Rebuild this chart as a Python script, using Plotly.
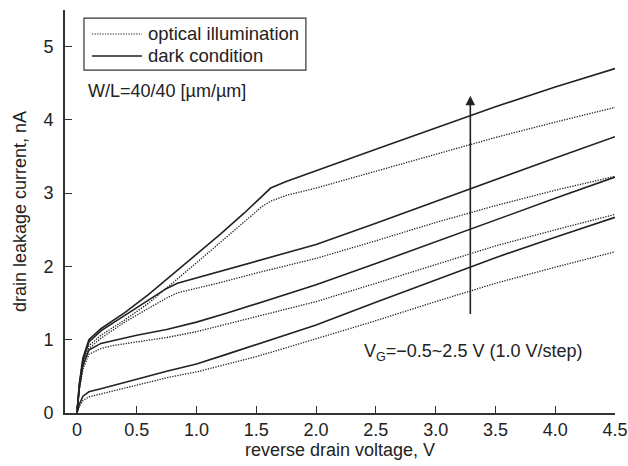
import plotly.graph_objects as go

# ---- data ----
v_top = [0, 0.02, 0.05, 0.1, 0.2, 0.4, 0.6, 0.8, 1.0, 1.2, 1.4, 1.55, 1.62, 1.75, 2.0, 2.5, 3.0, 3.5, 4.0, 4.5]
dark_vg25 = [0, 0.40, 0.75, 1.0, 1.15, 1.37, 1.62, 1.89, 2.16, 2.44, 2.73, 2.96, 3.07, 3.16, 3.31, 3.60, 3.89, 4.18, 4.45, 4.70]
light_vg25 = [0, 0.35, 0.68, 0.92, 1.06, 1.27, 1.50, 1.77, 2.05, 2.33, 2.61, 2.82, 2.89, 2.97, 3.07, 3.30, 3.54, 3.76, 3.97, 4.17]

v_mid = [0, 0.02, 0.05, 0.1, 0.2, 0.4, 0.6, 0.75, 0.84, 0.95, 1.2, 1.5, 2.0, 2.5, 3.0, 3.5, 4.0, 4.5]
dark_vg15 = [0, 0.38, 0.72, 0.97, 1.12, 1.33, 1.54, 1.70, 1.77, 1.82, 1.94, 2.07, 2.30, 2.59, 2.89, 3.19, 3.48, 3.77]
light_vg15 = [0, 0.33, 0.65, 0.88, 1.02, 1.24, 1.43, 1.57, 1.64, 1.68, 1.78, 1.91, 2.11, 2.35, 2.60, 2.83, 3.04, 3.23]

v_low = [0, 0.02, 0.05, 0.1, 0.2, 0.3, 0.5, 0.75, 1.0, 1.25, 1.5, 1.75, 2.0, 2.5, 3.0, 3.5, 4.0, 4.5]
dark_vg05 = [0, 0.35, 0.65, 0.86, 0.95, 0.99, 1.06, 1.14, 1.24, 1.36, 1.49, 1.62, 1.75, 2.04, 2.34, 2.64, 2.93, 3.22]
light_vg05 = [0, 0.32, 0.60, 0.80, 0.88, 0.92, 0.97, 1.03, 1.11, 1.21, 1.31, 1.41, 1.52, 1.77, 2.03, 2.28, 2.50, 2.71]
dark_vgm05 = [0, 0.12, 0.23, 0.29, 0.33, 0.37, 0.46, 0.57, 0.67, 0.80, 0.93, 1.07, 1.20, 1.51, 1.82, 2.12, 2.40, 2.67]
light_vgm05 = [0, 0.09, 0.17, 0.22, 0.26, 0.30, 0.39, 0.48, 0.56, 0.66, 0.77, 0.89, 1.01, 1.26, 1.52, 1.77, 1.99, 2.20]

x_ticks = [0, 0.5, 1.0, 1.5, 2.0, 2.5, 3.0, 3.5, 4.0, 4.5]
x_ticktext = ["0", "0.5", "1.0", "1.5", "2.0", "2.5", "3.0", "3.5", "4.0", "4.5"]
y_ticks = [0, 1, 2, 3, 4, 5]
legend_labels = ["optical illumination", "dark condition"]

FONT = "Liberation Sans, Arial, Helvetica, sans-serif"
INK = "#222222"
DOT = "1.3px,1.3px"

light_sets = [(v_top, light_vg25), (v_mid, light_vg15), (v_low, light_vg05), (v_low, light_vgm05)]
dark_sets = [(v_top, dark_vg25), (v_mid, dark_vg15), (v_low, dark_vg05), (v_low, dark_vgm05)]

fig = go.Figure()
for xv, yv in light_sets:
    fig.add_trace(go.Scatter(
        x=xv, y=yv, mode="lines", name=legend_labels[0],
        line=dict(color="#222222", width=1.3, dash=DOT),
        showlegend=False, hoverinfo="skip"))
for xv, yv in dark_sets:
    fig.add_trace(go.Scatter(
        x=xv, y=yv, mode="lines", name=legend_labels[1],
        line=dict(color=INK, width=1.6),
        showlegend=False, hoverinfo="skip"))

fig.update_layout(
    width=628, height=466,
    margin=dict(l=65, r=13, t=10, b=53),
    paper_bgcolor="white", plot_bgcolor="white",
    font=dict(family=FONT, size=18, color=INK),
    showlegend=False,
    xaxis=dict(
        range=[-0.1, 4.5], tickvals=x_ticks, ticktext=x_ticktext,
        ticks="inside", ticklen=7, tickcolor="#333333", tickwidth=1.2,
        showline=True, linecolor="#333333", linewidth=1.6,
        showgrid=False, zeroline=False, automargin=False,
        tickfont=dict(family=FONT, size=18, color=INK),
        title=dict(text="reverse drain voltage, V", standoff=4,
                   font=dict(family=FONT, size=18, color=INK)),
    ),
    yaxis=dict(
        range=[0, 5.5], tickvals=y_ticks,
        ticks="inside", ticklen=7, tickcolor="#333333", tickwidth=1.2,
        showline=True, linecolor="#333333", linewidth=1.6,
        showgrid=False, zeroline=False, ticklabelstandoff=6, automargin=False,
        tickfont=dict(family=FONT, size=18, color=INK),
        title=dict(text="drain leakage current, nA", standoff=12,
                   font=dict(family=FONT, size=18, color=INK)),
    ),
)

# ---- legend box drawn by hand (matches reference's compact box) ----
fig.add_shape(type="rect", xref="paper", yref="paper",
              x0=0.0345, x1=0.438, y0=0.851, y1=0.980,
              line=dict(color="#333333", width=1.2), fillcolor="white", layer="above")
fig.add_shape(type="line", xref="paper", yref="paper",
              x0=0.049, x1=0.140, y0=0.9405, y1=0.9405,
              line=dict(color="#222222", width=1.2, dash=DOT))
fig.add_shape(type="line", xref="paper", yref="paper",
              x0=0.049, x1=0.140, y0=0.886, y1=0.886,
              line=dict(color=INK, width=1.5))
fig.add_annotation(xref="paper", yref="paper", x=0.147, y=0.9405,
                   xanchor="left", yanchor="middle", text=legend_labels[0],
                   showarrow=False, font=dict(size=18.5, color=INK))
fig.add_annotation(xref="paper", yref="paper", x=0.147, y=0.886,
                   xanchor="left", yanchor="middle", text=legend_labels[1],
                   showarrow=False, font=dict(size=18.5, color=INK))

fig.add_annotation(
    xref="paper", yref="paper", x=0.038, y=0.80, xanchor="left", yanchor="middle",
    text="W/L=40/40 [µm/µm]", showarrow=False, font=dict(size=18, color=INK))

fig.add_annotation(
    x=3.29, y=4.33, ax=3.29, ay=1.33, xref="x", yref="y", axref="x", ayref="y",
    text="", showarrow=True, arrowhead=2, arrowsize=1.2, arrowwidth=1.6,
    arrowcolor=INK, font=dict(size=1))

fig.add_annotation(
    x=2.38, y=0.82, xref="x", yref="y", xanchor="left", yanchor="middle",
    text="V<sub>G</sub>=\u22120.5~2.5 V (1.0 V/step)", showarrow=False,
    font=dict(size=18, color=INK))

fig.write_html("out.html")
